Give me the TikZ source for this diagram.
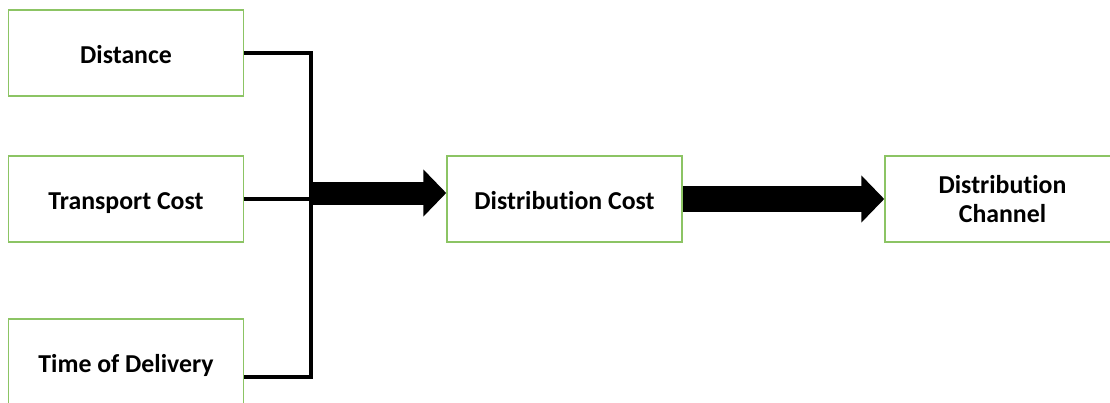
\documentclass[tikz,border=0pt]{standalone}
\usepackage{fontspec}
\setmainfont{Carlito}[Ligatures={NoCommon}]
\usetikzlibrary{arrows.meta}
\definecolor{boxgreen}{RGB}{140,196,100}
\tikzset{
  box/.style={draw=boxgreen, line width=1.5pt, fill=white, minimum width=235pt, minimum height=86pt,
    inner sep=0pt, align=center, font=\fontsize{25.8}{29}\selectfont\bfseries},
  oneline/.style={text height=20pt, text depth=0pt},
  conn/.style={draw=black, line width=4pt, miter limit=10},
  bigarrow/.style={draw=black, line width=#1, -{Triangle[length=23pt,width=46pt]}},
}
\begin{document}
\begin{tikzpicture}[x=1pt,y=-1pt]
\useasboundingbox (0,0) rectangle (1110,402);
\clip (0,0) rectangle (1110,402);
\node[box,oneline] (dist) at (126,53) {Distance};
\node[box,oneline] (tc) at (126,199) {Transport Cost};
\node[box,oneline] (tod) at (126,362) {Time of Delivery};
\node[box,oneline] (dc) at (564.5,199) {Distribution Cost};
\node[box] (ch) at (1002.5,199) {Distribution\\Channel};
\coordinate (j3) at (311,377);
\coordinate (j2) at (310,193);
\draw[conn] (dist.east) -| (j3) -- (j3 -| tod.east);
\draw[conn] (tc.east) -- (tc.east -| j3);
\draw[bigarrow=23pt] (j2) -- (j2 -| dc.west);
\draw[bigarrow=26pt] (dc.east) -- (ch.west);
\end{tikzpicture}
\end{document}
